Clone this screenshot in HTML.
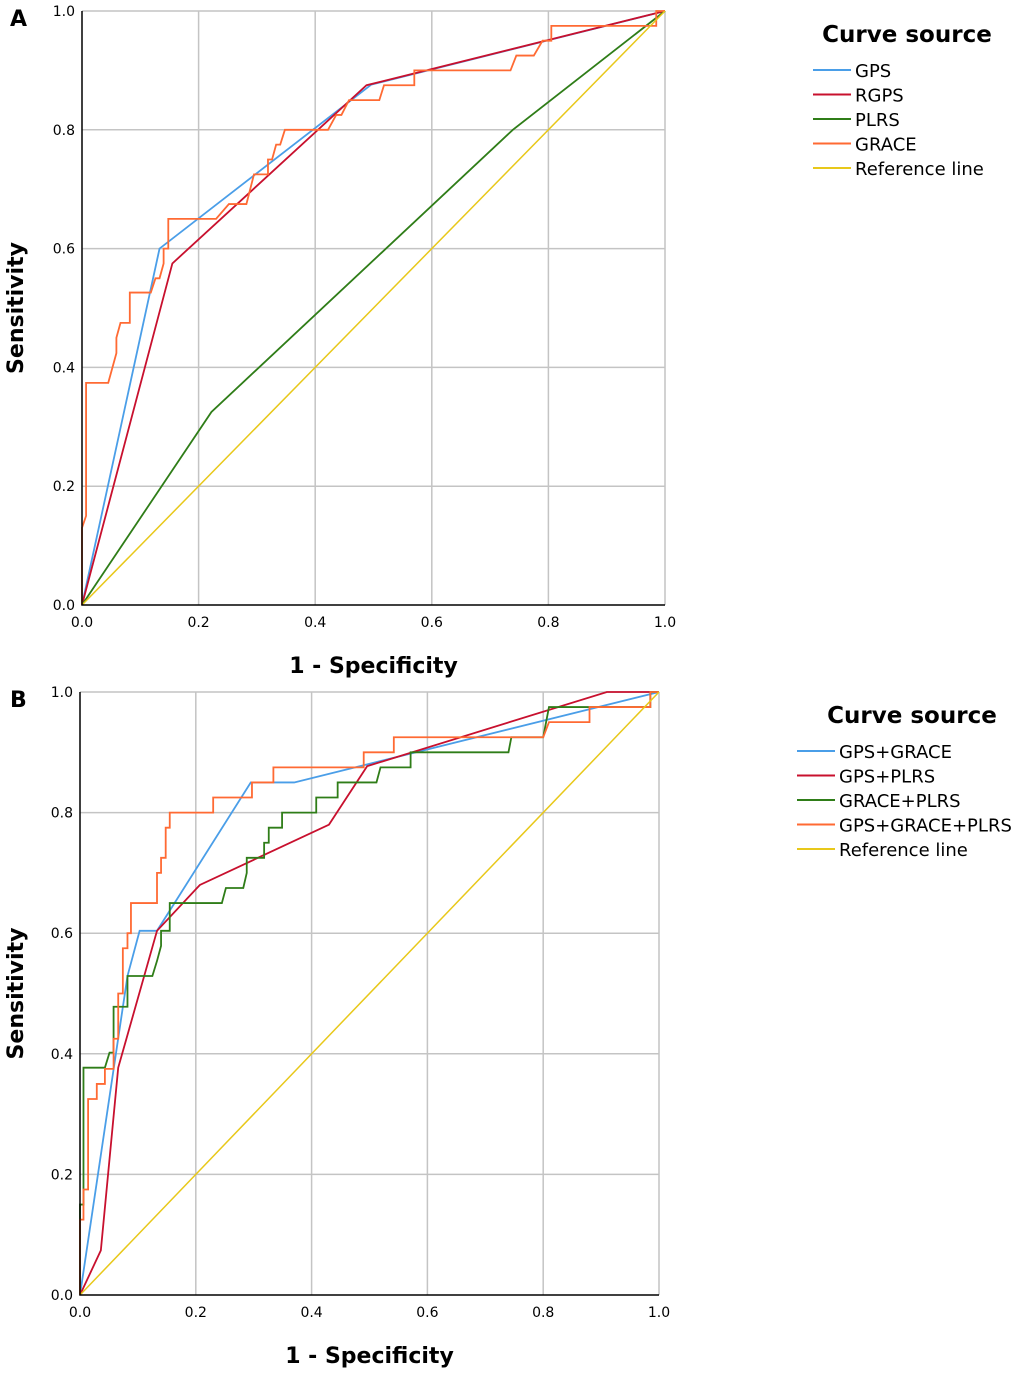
<!DOCTYPE html>
<html><head><meta charset="utf-8"><style>
body{margin:0;background:#fff;}
svg text{font-family:"DejaVu Sans","Liberation Sans",sans-serif;}
</style></head><body>
<svg id="chart" width="1020" height="1374" xmlns="http://www.w3.org/2000/svg"></svg>
<script>
const ticks=[0,0.2,0.4,0.6,0.8,1.0];
const tickLabels=["0.0","0.2","0.4","0.6","0.8","1.0"];
const aNames=["GPS","RGPS","PLRS","GRACE","Reference line"];
const bNames=["GPS+GRACE","GPS+PLRS","GRACE+PLRS","GPS+GRACE+PLRS","Reference line"];
const colors=["#4a9ee8","#c8102e","#2f7d18","#ff6a33","#e8c81a"];
const refLine=[[0,0],[1,1]];
const aGPS=[[0,0],[0.133,0.6],[0.496,0.876],[1,1]];
const aRGPS=[[0,0],[0.155,0.575],[0.488,0.875],[1,1]];
const aPLRS=[[0,0],[0.222,0.325],[0.739,0.8],[1,1]];
const aGRACE=[[0,0],[0,0.13],[0.007,0.15],[0.007,0.374],[0.045,0.374],[0.059,0.424],[0.059,0.45],[0.066,0.475],[0.082,0.475],[0.082,0.526],[0.118,0.526],[0.126,0.55],[0.133,0.55],[0.14,0.575],[0.14,0.6],[0.148,0.6],[0.148,0.65],[0.23,0.65],[0.252,0.675],[0.282,0.675],[0.295,0.725],[0.319,0.725],[0.319,0.75],[0.326,0.75],[0.333,0.775],[0.34,0.775],[0.348,0.8],[0.422,0.8],[0.436,0.825],[0.445,0.825],[0.458,0.85],[0.51,0.85],[0.518,0.875],[0.57,0.875],[0.57,0.9],[0.735,0.9],[0.745,0.925],[0.775,0.925],[0.79,0.95],[0.805,0.95],[0.805,0.975],[0.985,0.975],[0.985,1],[1,1]];
const bGPSGRACE=[[0,0],[0.082,0.529],[0.103,0.604],[0.133,0.604],[0.295,0.85],[0.37,0.85],[1,1]];
const bGPSPLRS=[[0,0],[0.036,0.074],[0.066,0.377],[0.133,0.604],[0.207,0.68],[0.43,0.78],[0.496,0.877],[0.91,1],[1,1]];
const bGRACEPLRS=[[0,0],[0,0.125],[0,0.15],[0.006,0.15],[0.006,0.377],[0.043,0.377],[0.051,0.402],[0.058,0.402],[0.058,0.478],[0.082,0.478],[0.082,0.529],[0.125,0.529],[0.133,0.554],[0.14,0.579],[0.14,0.604],[0.155,0.604],[0.155,0.65],[0.245,0.65],[0.252,0.675],[0.282,0.675],[0.288,0.7],[0.288,0.725],[0.318,0.725],[0.318,0.75],[0.326,0.75],[0.326,0.775],[0.349,0.775],[0.349,0.8],[0.408,0.8],[0.408,0.825],[0.445,0.825],[0.445,0.85],[0.512,0.85],[0.519,0.875],[0.571,0.875],[0.571,0.9],[0.74,0.9],[0.745,0.925],[0.8,0.925],[0.81,0.975],[0.985,0.975],[0.985,1],[1,1]];
const bALL=[[0,0],[0,0.125],[0.006,0.125],[0.006,0.175],[0.014,0.175],[0.014,0.325],[0.029,0.325],[0.029,0.35],[0.043,0.35],[0.043,0.375],[0.058,0.375],[0.058,0.425],[0.066,0.425],[0.066,0.5],[0.074,0.5],[0.074,0.575],[0.082,0.575],[0.082,0.6],[0.088,0.6],[0.088,0.65],[0.133,0.65],[0.133,0.7],[0.14,0.7],[0.14,0.725],[0.148,0.725],[0.148,0.775],[0.155,0.775],[0.155,0.8],[0.23,0.8],[0.23,0.825],[0.297,0.825],[0.297,0.85],[0.334,0.85],[0.334,0.875],[0.49,0.875],[0.49,0.9],[0.542,0.9],[0.542,0.925],[0.8,0.925],[0.81,0.95],[0.88,0.95],[0.88,0.975],[0.985,0.975],[0.985,1],[1,1]];

const NS="http://www.w3.org/2000/svg";
const svg=document.getElementById('chart');
function mk(tag,attrs,parent){const e=document.createElementNS(NS,tag);for(const k in attrs)e.setAttribute(k,attrs[k]);(parent||svg).appendChild(e);return e;}
function panel(p){
  const g=mk('g',{});
  
  
  const sx=v=>p.x0+v*(p.x1-p.x0), sy=v=>p.y0-v*(p.y0-p.y1);
  ticks.forEach((t,i)=>{
    if(t>0){
      const gl=mk('line',{x1:sx(t),x2:sx(t),y1:p.y0,y2:p.y1,stroke:'#c4c4c4','stroke-width':1.5},g);
      
      
      const gh=mk('line',{x1:p.x0,x2:p.x1,y1:sy(t),y2:sy(t),stroke:'#c4c4c4','stroke-width':1.5},g);
      
      
    }
    const tx=mk('text',{x:sx(t),y:p.y0+22,'font-size':14,'text-anchor':'middle'},g);tx.textContent=tickLabels[i];
    
    
    const ty=mk('text',{x:p.x0-7,y:sy(t)+5,'font-size':14,'text-anchor':'end'},g);ty.textContent=tickLabels[i];
    
    
  });
  p.series.forEach((s,i)=>{
    const pl=mk('polyline',{points:s.map(d=>sx(d[0])+','+sy(d[1])).join(' '),fill:'none',stroke:colors[i],'stroke-width':i==4?1.5:1.8},g);
    
    
  });
  const ax=mk('polyline',{points:`${p.x0},${p.y1} ${p.x0},${p.y0} ${p.x1},${p.y0}`,fill:'none',stroke:'#000','stroke-width':1.5},g);
  
  
  const xt=mk('text',{x:(p.x0+p.x1)/2,y:p.y0+68,'font-size':22,'font-weight':'bold','text-anchor':'middle'},g);xt.textContent='1 - Specificity';
  
  
  const yt=mk('text',{x:0,y:0,'font-size':22,'font-weight':'bold','text-anchor':'middle',transform:`translate(23,${(p.y0+p.y1)/2}) rotate(-90)`},g);yt.textContent='Sensitivity';
  
  
  const lb=mk('text',{x:10,y:p.y1+15,'font-size':22,'font-weight':'bold'},g);lb.textContent=p.id;
  
  
  const lt=mk('text',{x:p.lx+ (p.id=='A'?94:115),y:p.ly,'font-size':23,'font-weight':'bold','text-anchor':'middle'},g);lt.textContent='Curve source';
  
  
  p.names.forEach((n,i)=>{
    const yy=p.ly+28+i*24.5;
    const ll=mk('line',{x1:p.lx,x2:p.lx+38,y1:yy,y2:yy,stroke:colors[i],'stroke-width':2},g);
    
    
    const lt2=mk('text',{x:p.lx+42,y:yy+7,'font-size':18},g);lt2.textContent=n;
    
    
  });
}
panel({id:'A',x0:82,x1:665,y0:605,y1:11,names:aNames,series:[aGPS,aRGPS,aPLRS,aGRACE,refLine],lx:813,ly:42});
panel({id:'B',x0:80,x1:659,y0:1295,y1:692,names:bNames,series:[bGPSGRACE,bGPSPLRS,bGRACEPLRS,bALL,refLine],lx:797,ly:723});
</script>
</body></html>
